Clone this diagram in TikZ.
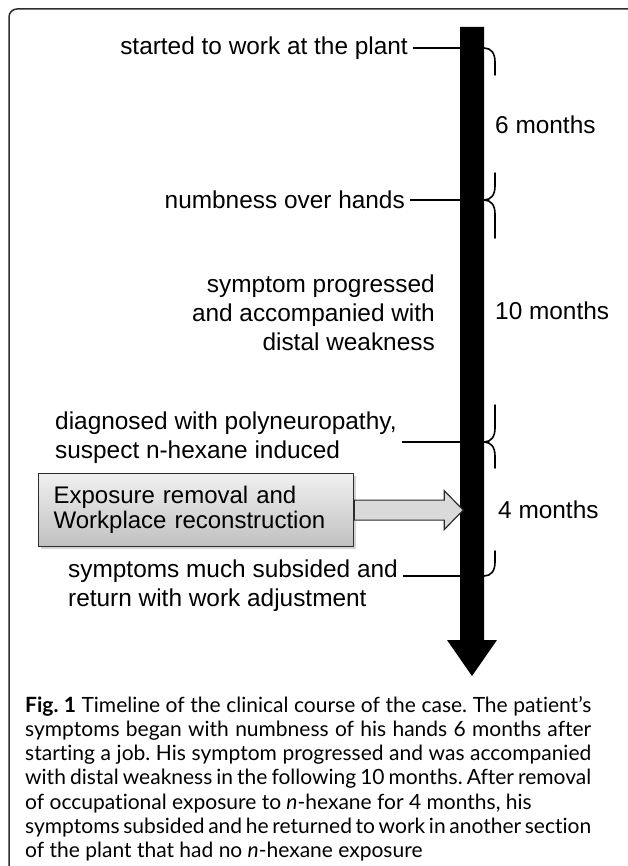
\documentclass[tikz,border=0pt]{standalone}
\usepackage{fontspec}
\setmainfont{Liberation Sans}
\newfontfamily\captionfont[Ligatures=NoCommon]{Lato}
\usetikzlibrary{shadows}
\definecolor{frameGray}{RGB}{45,45,45}
\definecolor{boxTop}{RGB}{240,240,240}
\definecolor{boxBottom}{RGB}{192,192,192}
\definecolor{arrowFill}{RGB}{218,218,218}
\tikzset{
  event/.style={font=\fontsize{24.4}{29}\selectfont,inner xsep=5pt,inner ysep=0pt},
  span/.style={font=\fontsize{24.4}{29}\selectfont,anchor=west,inner sep=0pt},
  tick/.style={line width=1.3pt},
  bracepart/.style={line width=1.6pt,line cap=round}
}
\newcommand{\BraceEnd}[3]{%
  \draw[bracepart] (484,#1) .. controls (491,#1) and (495,{#1+(#2)*5}) .. (495,{#1+(#2)*14}) -- (495,{#1+(#2)*#3});}

\begin{document}
\frenchspacing
\begin{tikzpicture}[x=1pt,y=-1pt]
\useasboundingbox (0,0) rectangle (627,866);
\draw[frameGray,line width=1.5pt,rounded corners=8pt] (9,870) -- (9,9) -- (632,9);
\fill (460,27) -- (484,27) -- (484,640) -- (497,640) -- (472,676) -- (447,640) -- (460,640) -- cycle;
\coordinate (bar) at (460,27);

\node[event,anchor=east] (start) at (413,48) {started to work at the plant};
\node[event,anchor=east] (numb) at (410,200) {numbness over hands};
\node[event,anchor=east,align=right] (prog) at (440,313) {symptom progressed\\and accompanied with\\distal weakness};
\node[event,anchor=west,align=left] (diag) at (50,438) {diagnosed with polyneuropathy,\\suspect n-hexane induced};
\node[event,anchor=west,align=left] (subs) at (63,586) {symptoms much subsided and\\return with work adjustment};
\coordinate (t4) at (460,442);
\coordinate (t5) at (460,576);

\node[span] (m6) at (495,125) {6 months};
\node[span] (m10) at (495,311) {10 months};
\node[span] (m4) at (498,510) {4 months};

\draw[tick] (start.east) -- (start.east -| bar);
\draw[tick] (numb.east) -- (numb.east -| bar);
\draw[tick] (diag.east |- t4) -- (t4);
\draw[tick] (subs.east |- t5) -- (t5);

\BraceEnd{48}{1}{27}
\BraceEnd{200}{-1}{27}
\BraceEnd{200}{1}{38}
\BraceEnd{442}{-1}{37}
\BraceEnd{442}{1}{26}
\BraceEnd{576}{-1}{25}

\node[anchor=north west,draw=frameGray,line width=1.2pt,top color=boxTop,bottom color=boxBottom,drop shadow={opacity=0.35,shadow xshift=2pt,shadow yshift=-2pt},minimum width=315pt,minimum height=73pt,text width=285pt,inner xsep=15pt,align=left,font=\fontsize{24}{25}\selectfont] (expo) at (38,473) {Exposure removal and\\Workplace reconstruction};
\filldraw[fill=arrowFill,draw=frameGray,line width=1.2pt] (expo.east) ++(0,-10) -- ++(90,0) -- ++(0,-9.5) -- ++(19,19.5) -- ++(-19,19.5) -- ++(0,-9.5) -- ++(-90,0) -- cycle;

\node[anchor=north west,inner sep=0pt,text width=566pt,align=justify,font=\captionfont\fontsize{21}{24.2}\selectfont] (cap) at (25,696) {\textbf{Fig. 1} Timeline of the clinical course of the case. The patient’s\linebreak symptoms began with numbness of his hands 6 months after\linebreak starting a job. His symptom progressed and was accompanied\linebreak with distal weakness in the following 10 months. After removal\newline of occupational exposure to \textit{n}-hexane for 4 months, his\newline symptoms subsided and he returned to work in another section\newline of the plant that had no \textit{n}-hexane exposure};
\end{tikzpicture}
\end{document}
